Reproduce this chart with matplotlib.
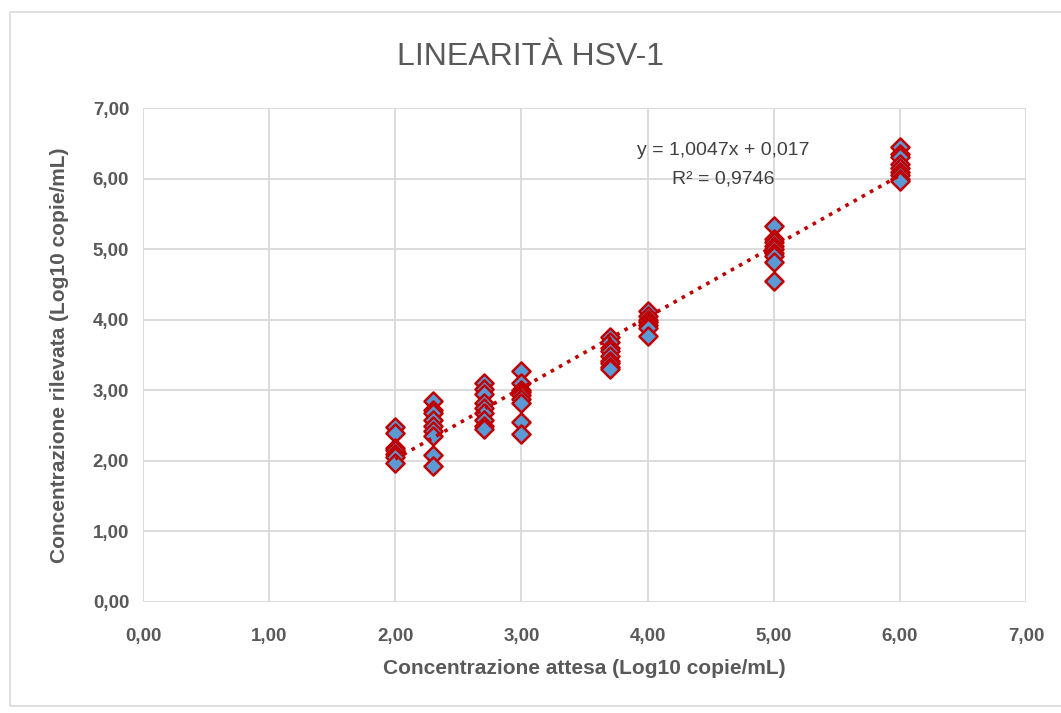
import matplotlib
matplotlib.use("Agg")
import matplotlib.pyplot as plt
from matplotlib.patches import Rectangle
from matplotlib.ticker import FuncFormatter
import numpy as np

plt.rcParams['font.family'] = ['Liberation Sans', 'DejaVu Sans']

# expected concentrations (log10 copies/mL) and measured values
x_levels = [2.0, 2.3, 2.7, 3.0, 3.7, 4.0, 5.0, 6.0]
measured = [
    [2.48, 2.40, 2.18, 2.15, 2.10, 2.05, 1.97],
    [2.85, 2.72, 2.68, 2.58, 2.50, 2.42, 2.35, 2.08, 1.92],
    [3.10, 3.02, 2.95, 2.82, 2.75, 2.68, 2.58, 2.50, 2.45],
    [3.28, 3.10, 3.00, 2.97, 2.93, 2.88, 2.82, 2.55, 2.38],
    [3.75, 3.68, 3.60, 3.55, 3.48, 3.42, 3.38, 3.33, 3.30],
    [4.12, 4.05, 4.00, 3.97, 3.93, 3.88, 3.77],
    [5.33, 5.15, 5.10, 5.05, 5.00, 4.95, 4.90, 4.82, 4.55],
    [6.45, 6.35, 6.30, 6.20, 6.15, 6.10, 6.05, 6.00, 5.97],
]
slope = 1.0047
intercept = 0.017

xs = []
ys = []
for xv, vals in zip(x_levels, measured):
    xs += [xv] * len(vals)
    ys += vals

fig = plt.figure(figsize=(10.61, 7.13), dpi=100)
fig.patches.append(Rectangle((0.0095, 0.01), 1.0, 0.973, transform=fig.transFigure,
                             fill=False, edgecolor='#D9D9D9', linewidth=1.2))
ax = fig.add_axes([0.1348, 0.1557, 0.8322, 0.6928])

ax.scatter(xs, ys, marker='D', s=85, facecolor='#5B9BD5', edgecolor='#C00000',
           linewidth=1.8, zorder=3)

tx = np.array([min(x_levels), max(x_levels)])
ax.plot(tx, slope * tx + intercept, color='#C00000', linestyle=(0, (1, 1.6)),
        linewidth=2.6, zorder=4)

ax.set_xlim(0, 7)
ax.set_ylim(0, 7)
ax.set_xticks(range(8))
ax.set_yticks(range(8))
fmt = FuncFormatter(lambda v, p: f'{v:.2f}'.replace('.', ','))
ax.xaxis.set_major_formatter(fmt)
ax.yaxis.set_major_formatter(fmt)
ax.grid(True, color='#D9D9D9', linewidth=1.3)
ax.set_axisbelow(True)
for s in ax.spines.values():
    s.set_visible(False)
ax.tick_params(length=0, labelsize=13.5, colors='#595959')
ax.tick_params(axis='x', pad=19)
ax.tick_params(axis='y', pad=10)
for lab in ax.get_xticklabels() + ax.get_yticklabels():
    lab.set_fontweight('bold')

ax.set_xlabel('Concentrazione attesa (Log10 copie/mL)', fontsize=15, fontweight='bold',
              color='#595959', labelpad=10)
ax.set_ylabel('Concentrazione rilevata (Log10 copie/mL)', fontsize=15, fontweight='bold',
              color='#595959', labelpad=17)
fig.text(0.5, 0.92, 'LINEARITÀ HSV-1', ha='center', va='center', fontsize=23,
         color='#595959')

ax.text(4.6, 6.4, 'y = 1,0047x + 0,017', ha='center', va='center', fontsize=14,
        color='#404040')
ax.text(4.6, 6.0, 'R² = 0,9746', ha='center', va='center', fontsize=14,
        color='#404040')

fig.savefig('out.png', dpi=100)
